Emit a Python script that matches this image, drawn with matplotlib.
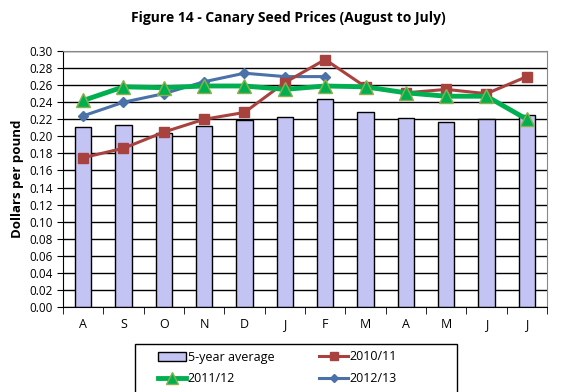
import matplotlib
matplotlib.use("Agg")
import matplotlib.pyplot as plt
from matplotlib.patches import Rectangle
import numpy as np

months = ["A", "S", "O", "N", "D", "J", "F", "M", "A", "M", "J", "J"]
avg5 = [0.211, 0.213, 0.204, 0.212, 0.219, 0.223, 0.244, 0.229, 0.222, 0.217, 0.220, 0.225]
s1011 = [0.175, 0.186, 0.205, 0.220, 0.228, 0.263, 0.290, 0.258, 0.251, 0.255, 0.250, 0.270]
s1112 = [0.242, 0.258, 0.257, 0.259, 0.259, 0.255, 0.259, 0.258, 0.251, 0.247, 0.247, 0.220]
s1213 = [0.224, 0.240, 0.250, 0.264, 0.274, 0.270, 0.270]
yticks = [i / 100 for i in range(0, 31, 2)]

plt.rcParams['font.family'] = ['Open Sans', 'DejaVu Sans']

fig = plt.figure(figsize=(5.76, 3.92), dpi=100)
W, H = 576, 392
ax = fig.add_axes([63 / W, 1 - 307 / H, (547 - 63) / W, (307 - 51) / H])

x = np.arange(len(months))
hb = ax.bar(x, avg5, width=0.4, color="#C4C4F4", edgecolor="black", linewidth=1.0,
            zorder=2, label="5-year average")
h1, = ax.plot(x, s1011, color="#A8423F", linewidth=2.2, marker="s", markersize=7,
              markeredgecolor="#A8423F", zorder=4, label="2010/11")
h2, = ax.plot(x, s1112, color="#00B050", linewidth=3.5, marker="^", markersize=10,
              markeredgecolor="#8DB04F", markerfacecolor="#00B050", zorder=5, label="2011/12")
h3, = ax.plot(np.arange(len(s1213)), s1213, color="#4A71A8", linewidth=2.2, marker="D",
              markersize=5.5, markeredgecolor="#4A71A8", zorder=3, label="2012/13")

ax.set_xlim(-0.5, len(months) - 0.5)
ax.set_ylim(0, 0.30)
ax.set_yticks(yticks)
ax.set_yticklabels([f"{v:.2f}" for v in yticks], fontsize=8.5)
ax.yaxis.grid(True, color="black", linewidth=1.0, zorder=0)
ax.set_axisbelow(True)

ax.set_xticks(x)
ax.set_xticklabels(months, fontsize=9)
ax.set_xticks(np.arange(-0.5, len(months), 1), minor=True)
ax.tick_params(axis="x", which="major", length=0, pad=8)
ax.tick_params(axis="x", which="minor", length=5, direction="out", color="black")
ax.tick_params(axis="y", length=4, direction="out", color="black")

for s in ["top", "right"]:
    ax.spines[s].set_color("#888888")
for s in ["left", "bottom"]:
    ax.spines[s].set_color("black")

ax.set_ylabel("Dollars per pound", fontsize=9.5, fontweight="bold", labelpad=4)
fig.text(0.5, 1 - 18 / H, "Figure 14 - Canary Seed Prices (August to July)",
         ha="center", va="center", fontsize=10, fontweight="bold")

# legend box
fig.patches.append(Rectangle((135 / W, 1 - 400 / H), (457 - 135) / W, (400 - 344) / H,
                             transform=fig.transFigure, facecolor="none",
                             edgecolor="black", linewidth=1.0, zorder=10))

handles = [hb, h2, h1, h3]
labels = [h.get_label() for h in handles]
leg = fig.legend(handles, labels, loc="upper left", bbox_to_anchor=(150 / W, 1 - 343 / H),
                 ncol=2, fontsize=9, frameon=False,
                 handlelength=2.3, columnspacing=3.6, borderpad=0.6, handletextpad=0.1,
                 labelspacing=0.7, borderaxespad=0, markerscale=0.8)

fig.savefig("out.png", dpi=100)
